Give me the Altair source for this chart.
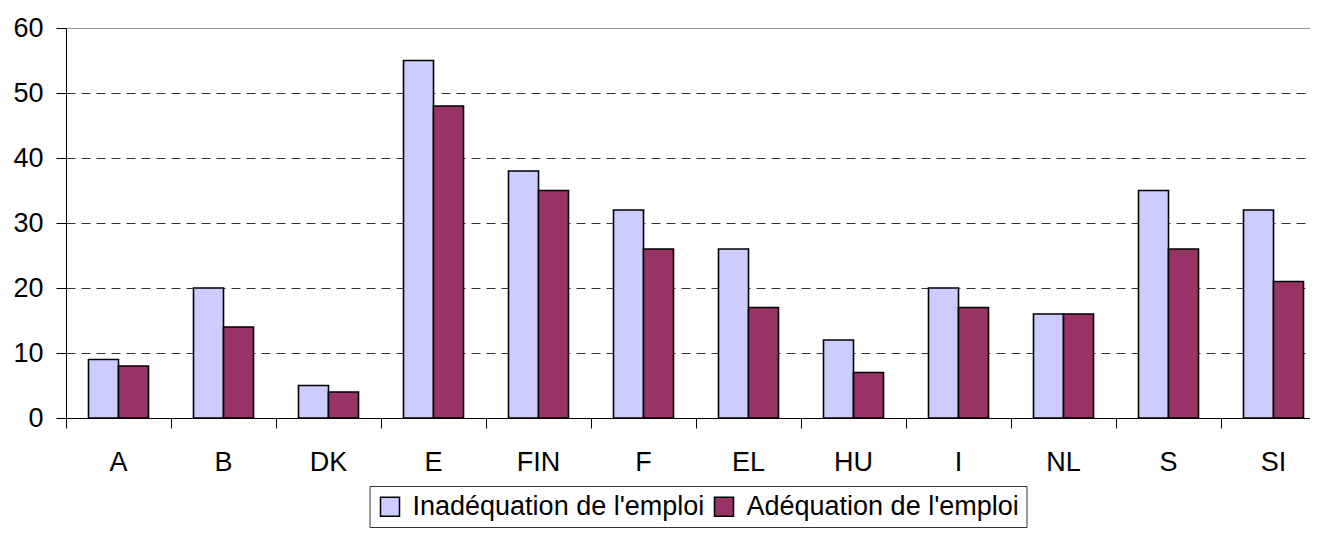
import altair as alt
import pandas as pd

categories = ["A", "B", "DK", "E", "FIN", "F", "EL", "HU", "I", "NL", "S", "SI"]
inadequation = [9, 20, 5, 55, 38, 32, 26, 12, 20, 16, 35, 32]
adequation = [8, 14, 4, 48, 35, 26, 17, 7, 17, 16, 26, 21]
series = ["Inadéquation de l'emploi", "Adéquation de l'emploi"]
colors = ["#CCCCFF", "#993366"]
y_ticks = [0, 10, 20, 30, 40, 50, 60]

rows = []
for i, c in enumerate(categories):
    rows.append({"pays": c, "serie": series[0], "valeur": inadequation[i]})
    rows.append({"pays": c, "serie": series[1], "valeur": adequation[i]})
df = pd.DataFrame(rows)

FONT = "Liberation Sans"
FS = 27

xscale = alt.Scale(domain=categories, paddingInner=0.4286, paddingOuter=0.2143, range=[0, 1260])
yscale = alt.Scale(domain=[0, 60], nice=False)

base = alt.Chart(df)

bars = base.mark_bar(stroke="black", strokeWidth=1.6).encode(
    x=alt.X("pays:N", sort=categories, scale=xscale, title=None,
            axis=alt.Axis(orient="bottom", labelAngle=0, ticks=False, tickSize=0, labelPadding=31,
                          labelFont=FONT, labelFontSize=FS, labelColor="black",
                          domain=True, domainColor="black", domainWidth=1, grid=False)),
    xOffset=alt.XOffset("serie:N", sort=series, scale=alt.Scale(domain=series, paddingInner=0, paddingOuter=0)),
    y=alt.Y("valeur:Q", scale=yscale, title=None,
            axis=alt.Axis(values=y_ticks, tickSize=10, labelPadding=13, labelFont=FONT,
                          labelFontSize=FS, labelColor="black", domainColor="black",
                          tickColor="black", grid=True, gridDash=[9, 6], gridColor="#333333",
                          gridWidth=1)),
    color=alt.Color("serie:N", sort=series, scale=alt.Scale(domain=series, range=colors),
                    legend=alt.Legend(title=None, orient="none", legendX=303.5, legendY=458,
                                      direction="horizontal", symbolType="square",
                                      symbolSize=361, symbolStrokeColor="black",
                                      symbolStrokeWidth=1.5, labelFont=FONT, labelFontSize=FS,
                                      labelColor="black", labelOffset=9, columnPadding=6,
                                      labelLimit=0, padding=7, strokeColor="#333333",
                                      fillColor="white")),
)

ticks = base.mark_bar(opacity=0).encode(
    x=alt.X("pays:N", sort=categories, scale=xscale, title=None,
            axis=alt.Axis(orient="bottom", labels=False, ticks=True, tickSize=10, bandPosition=-0.375,
                          tickColor="black", domain=False, grid=False)),
    y=alt.Y("valeur:Q", scale=yscale, title=None),
)

top = base.mark_bar(opacity=0).encode(
    x=alt.X("pays:N", sort=categories, scale=xscale, title=None,
            axis=alt.Axis(orient="top", labels=False, ticks=False, domain=True,
                          domainColor="#999999", domainWidth=1, grid=False)),
    y=alt.Y("valeur:Q", scale=yscale, title=None),
)

chart = alt.layer(top, bars, ticks).resolve_axis(x="independent").properties(
    width=1244, height=390,
    autosize=alt.AutoSizeParams(type="none"),
    padding={"left": 58, "top": 20, "right": 0, "bottom": 110},
).configure_view(stroke=None).configure(background="white")

chart.save("out.html", embed_options={"renderer": "svg", "actions": False})
